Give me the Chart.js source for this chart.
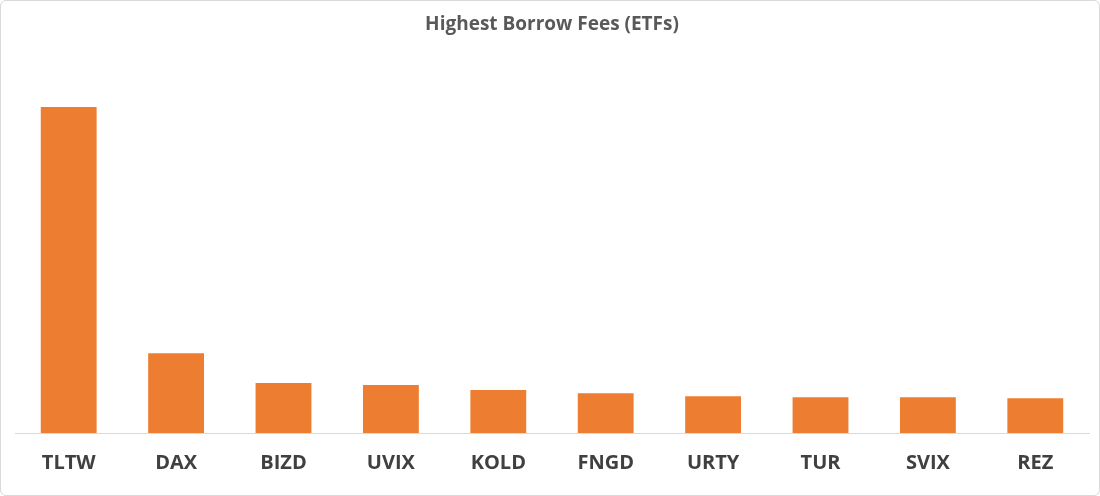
<!DOCTYPE html>
<html>
<head>
<meta charset="utf-8">
<script src="https://cdn.jsdelivr.net/npm/chart.js@4"></script>
<style>
html,body{margin:0;padding:0;background:#fff;}
#wrap{position:absolute;left:0;top:0;width:1098px;height:494px;border:1px solid #d9d9d9;border-radius:6px;}
</style>
</head>
<body>
<div id="wrap"><canvas id="c" width="1098" height="494"></canvas></div>
<script>
// relative borrow fee levels
let tickers=["TLTW","DAX","BIZD","UVIX","KOLD","FNGD","URTY","TUR","SVIX","REZ"];
let fees=[319,78,49,47,42,39,36,35,35,34];

new Chart(document.getElementById("c"),{
type:"bar",
data:{
labels:tickers,
datasets:[{
label:"Borrow Fee",
data:fees,
backgroundColor:"#ed7d31",
barPercentage:0.52,
categoryPercentage:1
}]
},
options:{
responsive:false,
animation:false,
layout:{padding:{left:14,right:10,top:0,bottom:10}},
plugins:{
legend:{display:false},
tooltip:{enabled:false},
title:{display:true,text:"Highest Borrow Fees (ETFs)",color:"#595959",
font:{family:"Open Sans",size:19,weight:"bold"},padding:{top:12,bottom:14}}
},
scales:{
x:{
grid:{display:false},
border:{color:"#d9d9d9"},
ticks:{color:"#404040",font:{family:"Open Sans",size:20,weight:"bold"},padding:10}
},
y:{display:false,min:0,max:375}
}
}
});
</script>
</body>
</html>
